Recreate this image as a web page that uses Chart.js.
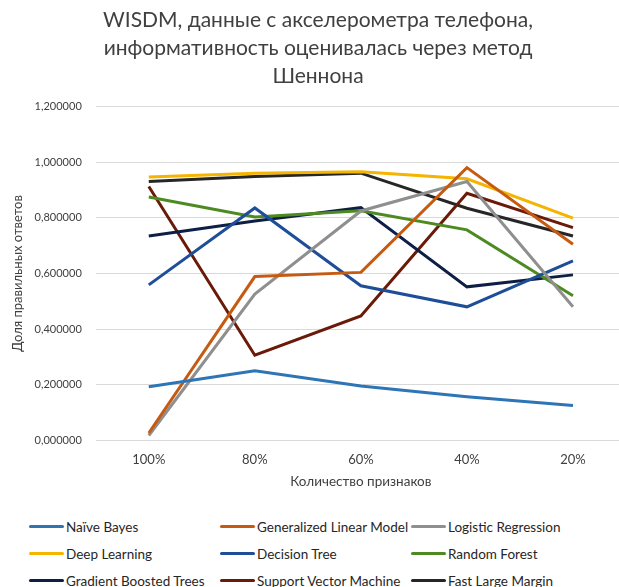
<!DOCTYPE html>
<html>
<head>
<meta charset="utf-8">
<script src="https://cdn.jsdelivr.net/npm/chart.js@4"></script>
<style>
    html, body { margin: 0; padding: 0; background: #fff; overflow: hidden; }
    .wrap { position: relative; width: 632px; height: 587px; }
    #chartBox { position: absolute; left: 0; top: 0; width: 632px; height: 500px; }
    #legend { position: absolute; left: 29px; top: 513px; font-family: Lato, sans-serif; font-size: 13.5px; color: #262626; }
    .lg-row { display: flex; height: 27px; align-items: center; }
    .lg-item { width: 191px; display: flex; align-items: center; white-space: nowrap; }
    .lg-line { width: 35px; height: 3px; border-radius: 2px; margin-right: 2px; }
</style>
</head>
<body>
<div class="wrap">
    <div id="chartBox"><canvas id="accChart"></canvas></div>
    <div id="legend"></div>
</div>
<script>
// Chart data
const categories = ['100%', '80%', '60%', '40%', '20%'];
const seriesNames = [
    'Naïve Bayes', 'Generalized Linear Model', 'Logistic Regression',
    'Deep Learning', 'Decision Tree', 'Random Forest',
    'Gradient Boosted Trees', 'Support Vector Machine', 'Fast Large Margin'
];
const naiveBayes = [0.192, 0.250, 0.195, 0.156, 0.125];
const generalizedLinear = [0.026, 0.589, 0.604, 0.981, 0.705];
const logisticRegression = [0.017, 0.526, 0.825, 0.931, 0.480];
const deepLearning = [0.947, 0.961, 0.966, 0.941, 0.799];
const decisionTree = [0.559, 0.836, 0.556, 0.480, 0.645];
const randomForest = [0.875, 0.803, 0.826, 0.757, 0.520];
const gradientBoosted = [0.735, 0.789, 0.837, 0.552, 0.595];
const svm = [0.913, 0.306, 0.447, 0.889, 0.765];
const fastLargeMargin = [0.931, 0.949, 0.961, 0.835, 0.735];
const yTicks = [0, 0.2, 0.4, 0.6, 0.8, 1.0, 1.2];

const seriesValues = [naiveBayes, generalizedLinear, logisticRegression, deepLearning,
    decisionTree, randomForest, gradientBoosted, svm, fastLargeMargin];
const seriesColors = ['#2E75B6', '#C55A11', '#8F8F8F', '#F4B400', '#1F4E99',
    '#4E8A22', '#0E1F45', '#6A1A08', '#262626'];

document.addEventListener('DOMContentLoaded', () => {
    const datasets = seriesNames.map((name, i) => ({
        label: name,
        data: seriesValues[i],
        borderColor: seriesColors[i],
        backgroundColor: seriesColors[i],
        borderWidth: 3,
        pointRadius: 0,
        tension: 0,
        fill: false
    }));

    new Chart(document.getElementById('accChart'), {
        type: 'line',
        data: { labels: categories, datasets },
        options: {
            responsive: true,
            maintainAspectRatio: false,
            animation: false,
            layout: { padding: { left: 10, right: 6, top: 0, bottom: 10 } },
            plugins: {
                legend: { display: false },
                tooltip: { enabled: false },
                title: {
                    display: true,
                    text: ['WISDM, данные с акселерометра телефона,',
                           'информативность оценивалась через метод',
                           'Шеннона'],
                    color: '#404040',
                    font: { family: 'Lato', size: 21, weight: 'normal', lineHeight: 1.33 },
                    padding: { top: 6, bottom: 17 }
                }
            },
            scales: {
                x: {
                    offset: true,
                    grid: { display: false, drawTicks: false },
                    border: { display: false },
                    ticks: { color: '#404040', font: { family: 'Lato', size: 13 }, padding: 12 },
                    title: {
                        display: true,
                        text: 'Количество признаков',
                        color: '#404040',
                        font: { family: 'Lato', size: 13.5 },
                        padding: { top: -6, bottom: 0 }
                    }
                },
                y: {
                    min: 0,
                    max: 1.2,
                    afterBuildTicks: axis => { axis.ticks = yTicks.map(v => ({ value: v })); },
                    grid: { color: '#d9d9d9', lineWidth: 1, drawTicks: false },
                    border: { display: false },
                    ticks: {
                        color: '#404040',
                        font: { family: 'Lato', size: 11 },
                        padding: 14,
                        callback: v => v.toFixed(6).replace('.', ',')
                    },
                    title: {
                        display: true,
                        text: 'Доля правильных ответов',
                        color: '#404040',
                        font: { family: 'Lato', size: 13 },
                        padding: { top: 0, bottom: -5 }
                    }
                }
            }
        }
    });

    // Legend laid out in a 3-column grid, like the original
    const legend = document.getElementById('legend');
    for (let r = 0; r < 3; r++) {
        const row = document.createElement('div');
        row.className = 'lg-row';
        for (let c = 0; c < 3; c++) {
            const i = r * 3 + c;
            const item = document.createElement('div');
            item.className = 'lg-item';
            const line = document.createElement('span');
            line.className = 'lg-line';
            line.style.background = seriesColors[i];
            const txt = document.createElement('span');
            txt.textContent = seriesNames[i];
            item.appendChild(line);
            item.appendChild(txt);
            row.appendChild(item);
        }
        legend.appendChild(row);
    }
});
</script>
</body>
</html>
